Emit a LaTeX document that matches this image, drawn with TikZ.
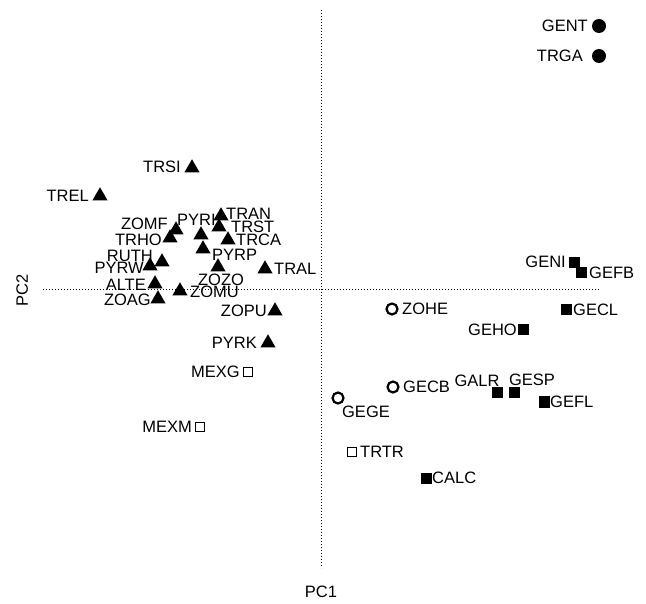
\documentclass[tikz,border=0pt]{standalone}
\usepackage{fontspec}
\setmainfont{Liberation Sans}
\usetikzlibrary{shapes.geometric}
\begin{document}
\begin{tikzpicture}[x=1pt,y=-1pt,
  tri/.style={regular polygon,regular polygon sides=3,fill=black,inner sep=0pt,minimum size=17.5pt},
  fcirc/.style={circle,fill=black,inner sep=0pt,minimum size=14pt},
  ocirc/.style={circle,draw=black,line width=2.2pt,inner sep=0pt,minimum size=11pt},
  fsq/.style={rectangle,fill=black,inner sep=0pt,minimum size=11pt},
  osq/.style={rectangle,draw=black,line width=1.4pt,inner sep=0pt,minimum size=9pt},
  lbl/.style={inner sep=0pt,font=\fontsize{16.5}{17}\selectfont,text height=11.8pt,text depth=0pt},
  axis/.style={dotted,line width=1pt}]
\useasboundingbox (0,0) rectangle (646,604);
% axes
\coordinate (vtop) at (321,10);
\coordinate (vbot) at (321,568);
\coordinate (hl) at (43,290);
\coordinate (hr) at (600,290);
\draw[axis] (vtop) -- (vbot);
\draw[axis] (hl) -- (hr);
\node[lbl] (pc1) at (321,592) {PC1};
\node[lbl,rotate=90] (pc2) at (22,290) {PC2};
% filled circles
\node[fcirc] (GENT) at (599,26) {};
\node[lbl,anchor=east] (lGENT) at (588,26) {GENT};
\node[fcirc] (TRGA) at (599,56) {};
\node[lbl,anchor=east] (lTRGA) at (583,56) {TRGA};
% triangles
\node[tri] (TRSI) at (192,168) {};
\node[lbl,anchor=east] (lTRSI) at (181,167) {TRSI};
\node[tri] (TREL) at (100,196) {};
\node[lbl,anchor=east] (lTREL) at (89,196) {TREL};
\node[tri] (ZOMF) at (176,230) {};
\node[lbl,anchor=east] (lZOMF) at (168,224) {ZOMF};
\node[tri] (TRHO) at (170,238) {};
\node[lbl,anchor=east] (lTRHO) at (162,240) {TRHO};
\node[lbl,anchor=west] (lPYRI) at (177,220) {PYRI};
\node[tri] (PYRI) at (201,235) {};
\node[tri] (TRAN) at (221,216) {};
\node[lbl,anchor=west] (lTRAN) at (226,214) {TRAN};
\node[tri] (TRST) at (219,227) {};
\node[lbl,anchor=west] (lTRST) at (231,227) {TRST};
\node[tri] (TRCA) at (228,240) {};
\node[lbl,anchor=west] (lTRCA) at (236,240) {TRCA};
\node[tri] (RUTH) at (162,262) {};
\node[lbl,anchor=east] (lRUTH) at (153,256) {RUTH};
\node[tri] (PYRW) at (150,266) {};
\node[lbl,anchor=east] (lPYRW) at (144,268) {PYRW};
\node[tri] (PYRP) at (203,249) {};
\node[lbl,anchor=west] (lPYRP) at (212,255) {PYRP};
\node[tri] (ZOZO) at (218,267) {};
\node[lbl] (lZOZO) at (221,280) {ZOZO};
\node[tri] (TRAL) at (265,269) {};
\node[lbl,anchor=west] (lTRAL) at (274,269) {TRAL};
\node[tri] (ALTE) at (155,284) {};
\node[lbl,anchor=east] (lALTE) at (146,285) {ALTE};
\node[tri] (ZOMU) at (180,291) {};
\node[lbl,anchor=west] (lZOMU) at (190,292) {ZOMU};
\node[tri] (ZOAG) at (158,299) {};
\node[lbl,anchor=east] (lZOAG) at (151,300) {ZOAG};
\node[tri] (ZOPU) at (275,311) {};
\node[lbl,anchor=east] (lZOPU) at (267,311) {ZOPU};
\node[tri] (PYRK) at (268,343) {};
\node[lbl,anchor=east] (lPYRK) at (257,343) {PYRK};
% open squares
\node[osq] (MEXG) at (248,372) {};
\node[lbl,anchor=east] (lMEXG) at (240,372) {MEXG};
\node[osq] (MEXM) at (200,427) {};
\node[lbl,anchor=east] (lMEXM) at (192,427) {MEXM};
\node[osq] (TRTR) at (352,452) {};
\node[lbl,anchor=west] (lTRTR) at (360,452) {TRTR};
% open circles
\node[ocirc] (ZOHE) at (392,309) {};
\node[lbl,anchor=west] (lZOHE) at (402,309) {ZOHE};
\node[ocirc] (GECB) at (393,387) {};
\node[lbl,anchor=west] (lGECB) at (403,387) {GECB};
\node[ocirc] (GEGE) at (338,398) {};
\node[lbl] (lGEGE) at (366,412) {GEGE};
% filled squares
\node[fsq] (GENI) at (574,263) {};
\node[lbl,anchor=east] (lGENI) at (566,262) {GENI};
\node[fsq] (GEFB) at (581,273) {};
\node[lbl,anchor=west] (lGEFB) at (589,273) {GEFB};
\node[fsq] (GECL) at (566,310) {};
\node[lbl,anchor=west] (lGECL) at (573,310) {GECL};
\node[fsq] (GEHO) at (523,330) {};
\node[lbl,anchor=east] (lGEHO) at (517,330) {GEHO};
\node[fsq] (GALR) at (497,393) {};
\node[lbl] (lGALR) at (477,381) {GALR};
\node[fsq] (GESP) at (514,393) {};
\node[lbl] (lGESP) at (532,380) {GESP};
\node[fsq] (GEFL) at (544,402) {};
\node[lbl,anchor=west] (lGEFL) at (550,402) {GEFL};
\node[fsq] (CALC) at (426,478) {};
\node[lbl,anchor=west] (lCALC) at (432,478) {CALC};
\end{tikzpicture}
\end{document}
